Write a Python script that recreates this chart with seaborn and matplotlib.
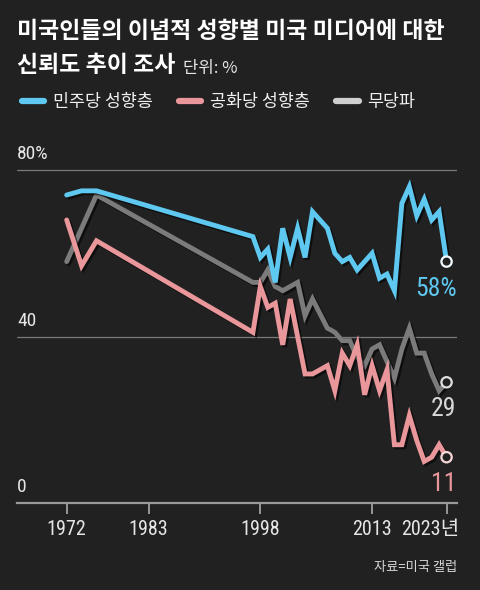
import pandas as pd
import numpy as np
import matplotlib
matplotlib.use('Agg')
import matplotlib.pyplot as plt
import matplotlib.patheffects as pe
from matplotlib.lines import Line2D
from matplotlib.transforms import ScaledTranslation
import seaborn as sns

sns.set_style('dark')
plt.rcParams['font.family'] = ['Noto Sans CJK KR', 'DejaVu Sans']

# survey years (Gallup)
years = [1972, 1974, 1976, 1997, 1998, 1999, 2000, 2001, 2002, 2003, 2004, 2005,
         2007, 2008, 2009, 2010, 2011, 2012, 2013, 2014, 2015, 2016,
         2017, 2018, 2019, 2020, 2021, 2022, 2023]
dem = [74, 75, 75, 64, 59, 61, 53, 66, 59, 66, 59, 70,
       66, 60, 58, 59, 56, 58, 60, 54, 55, 51,
       72, 76, 69, 73, 68, 70, 58]
rep = [68, 57, 63, 41, 52, 47, 48, 38, 49, 40, 31, 31,
       33, 27, 36, 33, 38, 26, 33, 27, 32, 14,
       14, 21, 15, 10, 11, 14, 11]
ind = [58, 66, 74, 53, 53, 56, 52, 51, 52, 53, 45, 49,
       42, 41, 39, 39, 35, 33, 37, 38, 34, 30,
       37, 42, 36, 36, 31, 27, 29]

groups = ['민주당 성향층', '공화당 성향층', '무당파']
end_labels = ['58%', '11', '29']
tick_years = [1972, 1983, 1998, 2013, 2023]
tick_labels = ['1972', '1983', '1998', '2013', '2023년']

bg = '#212121'
line_colors = {'민주당 성향층': '#5ec8f0', '공화당 성향층': '#e9979b', '무당파': '#7b7b7b'}
legend_colors = ['#5ec8f0', '#e9979b', '#cfcfcf']
label_colors = ['#5ec8f0', '#e9979b', '#d8d8d8']
edge_colors = {'민주당 성향층': '#f2fbff', '공화당 성향층': '#f7d6d8', '무당파': '#e0e0e0'}
num_font = ['Roboto Condensed', 'Roboto', 'Noto Sans CJK KR', 'DejaVu Sans']

df = pd.DataFrame({
    'year': years * 3,
    'value': dem + rep + ind,
    'group': [groups[0]] * len(years) + [groups[1]] * len(years) + [groups[2]] * len(years),
})

fig = plt.figure(figsize=(4.8, 5.9), dpi=100, facecolor=bg)
ax = fig.add_axes([17 / 480, 1 - 503 / 590, 440 / 480, (503 - 161.7) / 590])
ax.set_facecolor(bg)

sns.lineplot(data=df, x='year', y='value', hue='group',
             hue_order=['무당파', '공화당 성향층', '민주당 성향층'],
             palette=line_colors, estimator=None, linewidth=3.5,
             legend=False, ax=ax)
for ln in ax.lines:
    ln.set_solid_joinstyle('miter')
    ln.set_path_effects([pe.SimpleLineShadow(offset=(1.5, -1.5), shadow_color='black', alpha=0.55),
                         pe.Normal()])

last = df[df['year'] == years[-1]]
sns.scatterplot(data=last, x='year', y='value', color=bg,
                edgecolor=[edge_colors[g] for g in last['group']],
                linewidth=1.6, s=55, zorder=6, legend=False, ax=ax)

for g, lab, c in zip(groups, end_labels, label_colors):
    v = last.loc[last['group'] == g, 'value'].iloc[0]
    ax.annotate(lab, (years[-1], v), xytext=(10, -27), textcoords='offset pixels',
                ha='right', va='center', fontsize=18.5, color=c, family=num_font)

ax.set_xlim(1965.33, 2024.4)
ax.set_ylim(0, 82)
ax.set_xlabel('')
ax.set_ylabel('')
ax.grid(False)
for v in [40, 80]:
    ax.axhline(v, color='#7a7a7a', lw=0.9, zorder=0)
for v, lab in zip([0, 40, 80], ['0', '40', '80%']):
    ax.text(0, v + 1.6, lab, transform=ax.get_yaxis_transform(), ha='left', va='bottom',
            fontsize=14, color='#e6e6e6', family=num_font)

ax.set_yticks([])
ax.set_xticks(tick_years)
ax.set_xticklabels(tick_labels, family=num_font)
ax.tick_params(axis='x', colors='#a0a0a0', length=8, width=1.3, pad=4,
               labelsize=14.5, labelcolor='#e6e6e6', direction='out', bottom=True)
xl = ax.get_xticklabels()[-1]
xl.set_ha('right')
xl.set_transform(xl.get_transform() + ScaledTranslation(13 / 100, 0, fig.dpi_scale_trans))

for s in ['top', 'left', 'right']:
    ax.spines[s].set_visible(False)
ax.spines['bottom'].set_color('#9a9a9a')
ax.spines['bottom'].set_linewidth(1.6)

# title
fig.text(17 / 480, 1 - 31 / 590, '미국인들의 이념적 성향별 미국 미디어에 대한',
         fontsize=16.5, fontweight='heavy', color='white', va='center', ha='left')
t2 = fig.text(17 / 480, 1 - 65 / 590, '신뢰도 추이 조사',
              fontsize=16.5, fontweight='heavy', color='white', va='center', ha='left')
fig.canvas.draw()
bb = t2.get_window_extent()
fig.text((bb.x1 + 8) / 480, 1 - 68 / 590, '단위: %', fontsize=12, color='#e6e6e6',
         va='center', ha='left')

handles = [Line2D([0], [0], color=c, lw=4.5) for c in legend_colors]
fig.legend(handles, groups, loc='center left', bbox_to_anchor=(6 / 480, 1 - 102 / 590),
           ncol=3, frameon=False, fontsize=12.5, labelcolor='#f0f0f0',
           handlelength=1.3, handletextpad=0.5, columnspacing=1.5)

fig.text(457 / 480, 1 - 567 / 590, '자료=미국 갤럽', fontsize=9.5, color='#d6d6d6',
         ha='right', va='center')

fig.savefig('out.png', dpi=100, facecolor=bg)
